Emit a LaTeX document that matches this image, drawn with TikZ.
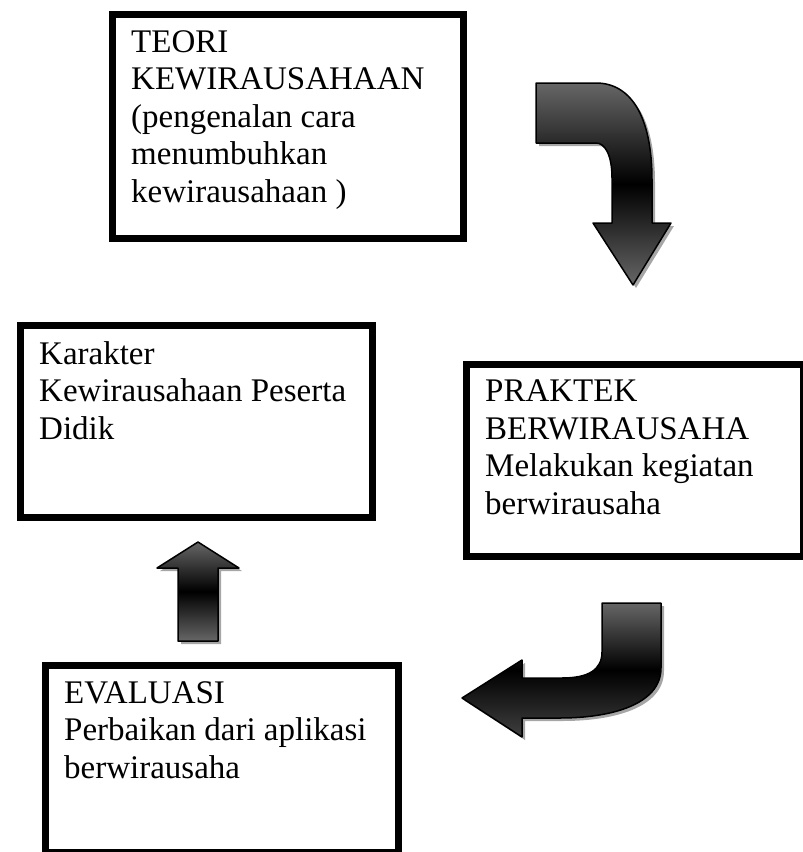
\documentclass[tikz,border=0pt]{standalone}
\usepackage{fontspec}
\setmainfont{Liberation Serif}
\usetikzlibrary{positioning}
\tikzset{
  frame/.style={draw=black,line width=7pt,inner sep=0pt,anchor=north west},
  txt/.style={anchor=north west,align=left,inner sep=0pt,font=\fontsize{33}{37.5}\selectfont},
  blockarrow/.style={draw=black,line width=1.5pt,line join=round,top color=black!60,bottom color=black!60,middle color=black},
  shadow/.style={fill=black!35,shift={(3,3)}},
}
\newcommand{\bentdown}[1]{\path[#1] (536,83) -- (596,83) .. controls (630,83) and (652,115) .. (652,180) -- (652,223) -- (671,223) -- (633,285) -- (593,223) -- (612,223) -- (612,178) .. controls (612,155) and (605,143) .. (596,143) -- (536,143) -- cycle;}
\newcommand{\bentleft}[1]{\path[#1] (602,603) -- (661,603) -- (661,668) .. controls (661,705) and (610,718) .. (560,718) -- (522,718) -- (522,737) -- (462,698) -- (522,660) -- (522,678) -- (562,678) .. controls (588,678) and (602,670) .. (602,652) -- cycle;}
\newcommand{\straightup}[1]{\path[#1] (178,641) -- (178,568) -- (157,568) -- (198,542) -- (239,568) -- (218,568) -- (218,641) -- cycle;}
\begin{document}
\begin{tikzpicture}[x=1pt,y=-1pt]
  \useasboundingbox (0,0) rectangle (803,852);
  % boxes
  \node[frame,minimum width=351pt,minimum height=224pt] (teori) at (108.5,10.5) {};
  \node[frame,minimum width=352pt,minimum height=192pt] (karakter) at (16.5,321.5) {};
  \node[frame,minimum width=337pt,minimum height=192pt] (praktek) at (462.5,360.5) {};
  \node[frame,minimum width=353pt,minimum height=187pt] (evaluasi) at (41.5,661.5) {};
  \node[txt] (teoriT) at ([xshift=22.5pt,yshift=-19.5pt]teori.north west) {TEORI\\KEWIRAUSAHAAN\\(pengenalan cara\\menumbuhkan\\kewirausahaan )};
  \node[txt] (karakterT) at ([xshift=22.5pt,yshift=-19.5pt]karakter.north west) {Karakter\\Kewirausahaan Peserta\\Didik};
  \node[txt] (praktekT) at ([xshift=22.5pt,yshift=-19.5pt]praktek.north west) {PRAKTEK\\BERWIRAUSAHA\\Melakukan kegiatan\\berwirausaha};
  \node[txt] (evaluasiT) at ([xshift=22.5pt,yshift=-19.5pt]evaluasi.north west) {EVALUASI\\Perbaikan dari aplikasi\\berwirausaha};
  % block arrows
  \bentdown{shadow}
  \bentdown{blockarrow}
  \bentleft{shadow}
  \bentleft{blockarrow,bottom color=black!75,middle color=black}
  \straightup{shadow}
  \straightup{blockarrow}
\end{tikzpicture}
\end{document}
